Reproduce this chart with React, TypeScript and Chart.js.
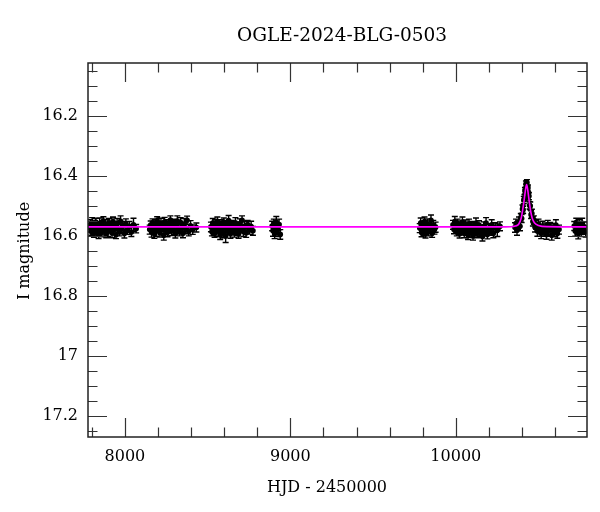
import React, { useEffect, useRef } from 'react';
import { Chart, registerables } from 'chart.js';

Chart.register(...registerables);

// ---- text ----
const titleText = 'OGLE-2024-BLG-0503';
const xAxisTitle = 'HJD - 2450000';
const yAxisTitle = 'I magnitude';

// ---- axes ----
const xMin = 7777;
const xMax = 10793;
const yMin = 16.022;
const yMax = 17.27;
const xTickValues = [7800, 8000, 8200, 8400, 8600, 8800, 9000, 9200, 9400, 9600, 9800, 10000, 10200, 10400, 10600];
const xLabelTicks = [8000, 9000, 10000];
const yTickValues = [16.05, 16.1, 16.15, 16.2, 16.25, 16.3, 16.35, 16.4, 16.45, 16.5, 16.55, 16.6, 16.65, 16.7, 16.75, 16.8, 16.85, 16.9, 16.95, 17, 17.05, 17.1, 17.15, 17.2, 17.25];
const yLabelTicks = [16.2, 16.4, 16.6, 16.8, 17, 17.2];

// ---- observations (HJD-2450000, I mag, error) ----
const hjdS1 = [7786, 7791, 7797, 7802, 7808, 7813, 7819, 7824, 7830, 7836, 7841, 7847, 7853, 7858, 7864, 7870, 7875, 7881, 7887, 7893, 7898, 7904, 7910, 7916, 7922, 7928, 7934, 7940, 7946, 7953, 7960, 7967, 7974, 7981, 7989, 7997, 8006, 8016, 8027, 8039, 8052, 8068];
const magS1 = [16.572, 16.561, 16.584, 16.556, 16.577, 16.590, 16.566, 16.553, 16.581, 16.569, 16.594, 16.558, 16.575, 16.587, 16.563, 16.549, 16.579, 16.570, 16.592, 16.560, 16.583, 16.555, 16.574, 16.566, 16.589, 16.551, 16.578, 16.568, 16.595, 16.557, 16.573, 16.585, 16.550, 16.576, 16.564, 16.591, 16.559, 16.580, 16.567, 16.586, 16.562, 16.575];
const errS1 = [0.014, 0.016, 0.013, 0.018, 0.015, 0.014, 0.017, 0.013, 0.015, 0.016, 0.014, 0.019, 0.013, 0.015, 0.016, 0.014, 0.017, 0.015, 0.013, 0.016, 0.018, 0.014, 0.015, 0.013, 0.016, 0.015, 0.017, 0.014, 0.013, 0.016, 0.015, 0.014, 0.018, 0.016, 0.013, 0.015, 0.017, 0.014, 0.016, 0.015, 0.022, 0.014];

const hjdS2 = [8150, 8156, 8161, 8167, 8172, 8178, 8184, 8189, 8195, 8201, 8206, 8212, 8218, 8223, 8229, 8235, 8240, 8246, 8252, 8258, 8263, 8269, 8275, 8281, 8287, 8293, 8299, 8305, 8311, 8317, 8323, 8330, 8337, 8344, 8351, 8359, 8367, 8376, 8386, 8397, 8410, 8432];
const magS2 = [16.578, 16.563, 16.586, 16.555, 16.571, 16.592, 16.560, 16.582, 16.548, 16.574, 16.566, 16.589, 16.557, 16.577, 16.569, 16.597, 16.552, 16.580, 16.564, 16.587, 16.558, 16.573, 16.546, 16.583, 16.568, 16.556, 16.579, 16.591, 16.561, 16.549, 16.575, 16.586, 16.554, 16.570, 16.590, 16.559, 16.576, 16.547, 16.584, 16.565, 16.578, 16.571];
const errS2 = [0.015, 0.014, 0.017, 0.013, 0.016, 0.015, 0.014, 0.018, 0.013, 0.015, 0.016, 0.014, 0.017, 0.015, 0.013, 0.016, 0.015, 0.014, 0.018, 0.015, 0.013, 0.016, 0.014, 0.015, 0.017, 0.013, 0.016, 0.015, 0.014, 0.017, 0.015, 0.013, 0.016, 0.014, 0.015, 0.018, 0.016, 0.014, 0.015, 0.017, 0.016, 0.015];

const hjdS3 = [8520, 8526, 8531, 8537, 8542, 8548, 8553, 8559, 8564, 8570, 8576, 8581, 8587, 8592, 8598, 8604, 8609, 8615, 8621, 8627, 8632, 8638, 8644, 8650, 8656, 8662, 8668, 8674, 8680, 8687, 8694, 8701, 8708, 8716, 8724, 8733, 8742, 8752, 8763, 8774];
const magS3 = [16.569, 16.585, 16.556, 16.578, 16.591, 16.562, 16.574, 16.550, 16.583, 16.567, 16.595, 16.558, 16.576, 16.588, 16.553, 16.571, 16.599, 16.563, 16.580, 16.548, 16.574, 16.592, 16.560, 16.577, 16.566, 16.589, 16.555, 16.581, 16.570, 16.593, 16.558, 16.575, 16.547, 16.584, 16.566, 16.589, 16.561, 16.577, 16.568, 16.582];
const errS3 = [0.016, 0.014, 0.015, 0.017, 0.013, 0.016, 0.015, 0.014, 0.018, 0.015, 0.016, 0.013, 0.015, 0.017, 0.014, 0.016, 0.022, 0.015, 0.014, 0.017, 0.016, 0.015, 0.013, 0.016, 0.015, 0.014, 0.017, 0.016, 0.015, 0.014, 0.016, 0.013, 0.015, 0.017, 0.016, 0.015, 0.014, 0.016, 0.018, 0.015];

const hjdS4 = [8890, 8895, 8900, 8905, 8910, 8915, 8920, 8926, 8932, 8939];
const magS4 = [16.566, 16.582, 16.558, 16.591, 16.571, 16.553, 16.586, 16.575, 16.561, 16.594];
const errS4 = [0.016, 0.018, 0.015, 0.017, 0.016, 0.019, 0.015, 0.017, 0.018, 0.016];

const hjdS5 = [9782, 9788, 9793, 9799, 9805, 9811, 9817, 9823, 9829, 9836, 9843, 9850, 9857, 9864, 9871, 9878];
const magS5 = [16.573, 16.556, 16.588, 16.565, 16.580, 16.551, 16.592, 16.569, 16.559, 16.584, 16.574, 16.547, 16.590, 16.563, 16.578, 16.570];
const errS5 = [0.015, 0.017, 0.014, 0.016, 0.018, 0.015, 0.014, 0.016, 0.017, 0.015, 0.016, 0.018, 0.014, 0.016, 0.015, 0.017];

const hjdS6 = [9983, 9989, 9994, 10000, 10006, 10011, 10017, 10023, 10028, 10034, 10040, 10045, 10051, 10057, 10063, 10069, 10074, 10080, 10086, 10092, 10098, 10104, 10110, 10116, 10122, 10128, 10134, 10140, 10147, 10154, 10161, 10168, 10175, 10183, 10191, 10199, 10208, 10217, 10227, 10238, 10251, 10267];
const magS6 = [16.562, 16.578, 16.551, 16.569, 16.586, 16.558, 16.574, 16.592, 16.565, 16.581, 16.553, 16.576, 16.589, 16.561, 16.583, 16.570, 16.596, 16.559, 16.578, 16.587, 16.566, 16.599, 16.572, 16.584, 16.557, 16.591, 16.575, 16.563, 16.588, 16.579, 16.601, 16.568, 16.585, 16.556, 16.594, 16.574, 16.583, 16.562, 16.590, 16.571, 16.580, 16.567];
const errS6 = [0.015, 0.014, 0.017, 0.016, 0.013, 0.015, 0.018, 0.014, 0.016, 0.015, 0.017, 0.013, 0.016, 0.015, 0.014, 0.018, 0.015, 0.016, 0.013, 0.017, 0.015, 0.014, 0.016, 0.015, 0.018, 0.014, 0.016, 0.015, 0.013, 0.017, 0.015, 0.016, 0.014, 0.018, 0.015, 0.016, 0.014, 0.017, 0.015, 0.016, 0.021, 0.015];

const hjdS7 = [10358, 10364, 10370, 10376, 10382, 10388, 10393, 10398, 10403, 10407, 10411, 10415, 10418, 10421, 10424, 10427, 10430, 10433, 10436, 10439, 10442, 10446, 10450, 10455, 10460, 10466, 10472, 10479, 10486, 10493, 10500, 10508, 10516, 10524, 10532, 10540, 10548, 10556, 10564, 10572, 10580, 10588, 10596, 10605, 10614, 10624];
const magS7 = [16.571, 16.558, 16.580, 16.563, 16.552, 16.567, 16.538, 16.541, 16.509, 16.512, 16.479, 16.472, 16.448, 16.452, 16.426, 16.438, 16.421, 16.445, 16.439, 16.468, 16.466, 16.497, 16.499, 16.528, 16.524, 16.551, 16.546, 16.570, 16.562, 16.583, 16.559, 16.577, 16.590, 16.566, 16.585, 16.573, 16.594, 16.561, 16.582, 16.569, 16.597, 16.575, 16.586, 16.563, 16.591, 16.578];
const errS7 = [0.016, 0.015, 0.017, 0.014, 0.016, 0.015, 0.014, 0.013, 0.013, 0.012, 0.012, 0.011, 0.011, 0.010, 0.010, 0.011, 0.010, 0.011, 0.010, 0.011, 0.012, 0.012, 0.013, 0.013, 0.014, 0.015, 0.014, 0.016, 0.015, 0.017, 0.016, 0.015, 0.018, 0.016, 0.015, 0.017, 0.016, 0.014, 0.018, 0.015, 0.016, 0.017, 0.015, 0.018, 0.016, 0.015];

const hjdS8 = [10716, 10722, 10728, 10734, 10740, 10746, 10752, 10758, 10764, 10770, 10777, 10785];
const magS8 = [16.566, 16.583, 16.554, 16.577, 16.591, 16.560, 16.574, 16.587, 16.557, 16.579, 16.569, 16.585];
const errS8 = [0.015, 0.017, 0.014, 0.016, 0.018, 0.015, 0.016, 0.014, 0.017, 0.015, 0.016, 0.018];

// ---- microlensing model curve ----
const modelHjd = [7777, 10300, 10360, 10380, 10395, 10405, 10413, 10420, 10428, 10436, 10443, 10452, 10462, 10475, 10500, 10550, 10793];
const modelMag = [16.569, 16.569, 16.566, 16.560, 16.540, 16.510, 16.480, 16.450, 16.428, 16.450, 16.480, 16.515, 16.540, 16.555, 16.564, 16.568, 16.569];

const seasons: [number[], number[], number[]][] = [
  [hjdS1, magS1, errS1],
  [hjdS2, magS2, errS2],
  [hjdS3, magS3, errS3],
  [hjdS4, magS4, errS4],
  [hjdS5, magS5, errS5],
  [hjdS6, magS6, errS6],
  [hjdS7, magS7, errS7],
  [hjdS8, magS8, errS8],
];

const FONT = '"DejaVu Serif", "Liberation Serif", serif';

export default function App() {
  const ref = useRef<HTMLCanvasElement>(null);

  useEffect(() => {
    const canvas = ref.current;
    if (!canvas) return;

    const obs: { x: number; y: number }[] = [];
    const errs: number[] = [];
    seasons.forEach(([h, m, e]) => {
      h.forEach((x, i) => {
        if (m[i] === undefined) return;
        obs.push({ x, y: m[i] });
        errs.push(e[i] ?? 0.015);
      });
    });
    const model = modelHjd.map((x, i) => ({ x, y: modelMag[i] }));

    const errorBars = {
      id: 'errorBars',
      beforeDatasetsDraw(chart: any) {
        const { ctx, chartArea, scales } = chart;
        ctx.save();
        ctx.beginPath();
        ctx.rect(chartArea.left, chartArea.top, chartArea.right - chartArea.left, chartArea.bottom - chartArea.top);
        ctx.clip();
        ctx.strokeStyle = '#000';
        ctx.lineWidth = 1.4;
        ctx.beginPath();
        obs.forEach((p, i) => {
          const px = scales.x.getPixelForValue(p.x);
          const y1 = scales.y.getPixelForValue(p.y - errs[i]);
          const y2 = scales.y.getPixelForValue(p.y + errs[i]);
          ctx.moveTo(px, y1);
          ctx.lineTo(px, y2);
          ctx.moveTo(px - 3, y1);
          ctx.lineTo(px + 3, y1);
          ctx.moveTo(px - 3, y2);
          ctx.lineTo(px + 3, y2);
        });
        ctx.stroke();
        ctx.restore();
      },
    };

    const frameAndText = {
      id: 'frameAndText',
      afterDraw(chart: any) {
        const { ctx, chartArea: a, scales } = chart;
        ctx.save();
        // inward ticks on all four sides
        ctx.strokeStyle = '#333';
        ctx.lineWidth = 1.2;
        ctx.beginPath();
        xTickValues.forEach((v) => {
          const px = Math.round(scales.x.getPixelForValue(v)) + 0.5;
          const len = xLabelTicks.includes(v) ? 19 : 9.5;
          ctx.moveTo(px, a.bottom);
          ctx.lineTo(px, a.bottom - len);
          ctx.moveTo(px, a.top);
          ctx.lineTo(px, a.top + len);
        });
        yTickValues.forEach((v) => {
          const py = Math.round(scales.y.getPixelForValue(v)) + 0.5;
          const len = yLabelTicks.includes(v) ? 19 : 9.5;
          ctx.moveTo(a.left, py);
          ctx.lineTo(a.left + len, py);
          ctx.moveTo(a.right, py);
          ctx.lineTo(a.right - len, py);
        });
        ctx.stroke();
        // frame
        ctx.strokeStyle = '#222';
        ctx.lineWidth = 1.5;
        ctx.strokeRect(a.left, a.top, a.right - a.left, a.bottom - a.top);

        // titles
        ctx.fillStyle = '#000';
        ctx.textBaseline = 'alphabetic';
        ctx.textAlign = 'center';
        ctx.font = `18.5px ${FONT}`;
        ctx.fillText(titleText, 342, 40.5);
        ctx.font = `16px ${FONT}`;
        ctx.fillText(xAxisTitle, 327, 492);
        ctx.translate(29, 251);
        ctx.rotate(-Math.PI / 2);
        ctx.font = `16px ${FONT}`;
        ctx.fillText(yAxisTitle, 0, 0);
        ctx.restore();
      },
    };

    const chart = new Chart(canvas, {
      type: 'scatter',
      data: {
        datasets: [
          {
            type: 'line',
            label: 'model',
            data: model,
            borderColor: '#ff00ff',
            borderWidth: 1.6,
            pointRadius: 0,
            fill: false,
            cubicInterpolationMode: 'monotone',
          } as any,
          {
            label: 'OGLE I',
            data: obs,
            backgroundColor: '#000',
            borderColor: '#000',
            borderWidth: 0,
            pointRadius: 2.8,
            pointHoverRadius: 2.8,
          },
        ],
      },
      options: {
        animation: false,
        responsive: false,
        events: [],
        layout: { padding: { top: 63, right: 13, bottom: 0, left: 0 } },
        plugins: {
          legend: { display: false },
          tooltip: { enabled: false },
          title: { display: false },
        },
        scales: {
          x: {
            type: 'linear',
            min: xMin,
            max: xMax,
            grid: { display: false, drawTicks: false },
            border: { display: false },
            afterBuildTicks: (scale: any) => {
              scale.ticks = xTickValues.map((v) => ({ value: v }));
            },
            afterFit: (scale: any) => {
              scale.height = 75;
            },
            ticks: {
              autoSkip: false,
              maxRotation: 0,
              minRotation: 0,
              padding: 10,
              color: '#000',
              font: { family: FONT, size: 16 },
              callback: (v: any) => (xLabelTicks.includes(Number(v)) ? String(v) : ''),
            },
          },
          y: {
            type: 'linear',
            reverse: true,
            min: yMin,
            max: yMax,
            grid: { display: false, drawTicks: false },
            border: { display: false },
            afterBuildTicks: (scale: any) => {
              scale.ticks = yTickValues.map((v) => ({ value: v }));
            },
            afterFit: (scale: any) => {
              scale.width = 88;
            },
            ticks: {
              autoSkip: false,
              padding: 10,
              color: '#000',
              font: { family: FONT, size: 16 },
              callback: (v: any) => (yLabelTicks.includes(Number(v)) ? String(v) : ''),
            },
          },
        },
      },
      plugins: [errorBars, frameAndText],
    });

    return () => chart.destroy();
  }, []);

  return (
    <div style={{ position: 'absolute', left: 0, top: 0, width: 600, height: 512, background: '#fff' }}>
      <canvas ref={ref} width={600} height={512} style={{ display: 'block', width: 600, height: 512 }} />
    </div>
  );
}
